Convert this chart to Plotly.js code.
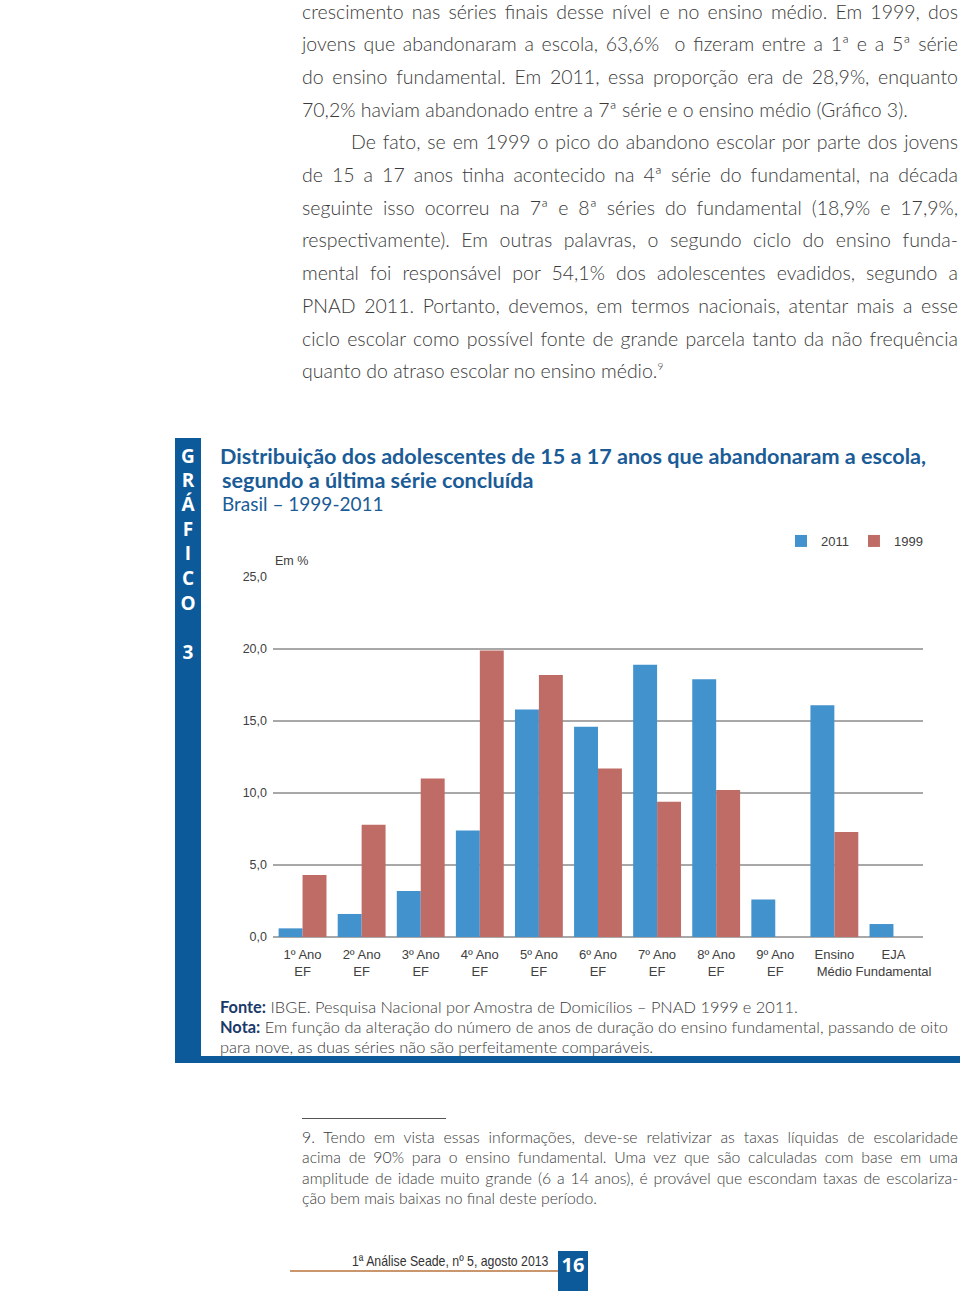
<!DOCTYPE html>
<html><head><meta charset="utf-8">
<script src="https://cdn.plot.ly/plotly-3.0.1.min.js"></script>
<style>
html,body{margin:0;padding:0;background:#fff;}
body{width:960px;height:1291px;position:relative;overflow:hidden;font-family:Lato,"Open Sans",sans-serif;color:#3a3a3a;}
.body{position:absolute;left:302px;top:-4.35px;width:656px;font-weight:300;font-size:19.5px;}
.body .l{height:32.7px;line-height:32.7px;text-align:justify;text-align-last:justify;overflow:visible;}
.body .e{text-align:left;text-align-last:left;}
.body .ind{padding-left:49px;}
sup.fn{font-size:10px;line-height:0;vertical-align:8px;}
.foot{position:absolute;left:302px;top:1126.5px;width:656px;font-weight:300;font-size:15.8px;}
.foot .l{height:20.6px;line-height:20.6px;text-align:justify;text-align-last:justify;}
.foot .e{text-align:left;text-align-last:left;}
#fnline{position:absolute;left:302px;top:1118px;width:144px;height:1px;background:#555;}
#side{position:absolute;left:175px;top:438px;width:26px;height:625px;background:#0d5a9b;}
#bottom{position:absolute;left:175px;top:1056px;width:785px;height:7px;background:#0d5a9b;}
.sl{position:absolute;left:175px;width:26px;text-align:center;color:#fff;font-weight:700;font-size:19px;font-family:"Open Sans",sans-serif;line-height:20px;}
#chart{position:absolute;left:201px;top:438px;width:757px;height:619px;}
.src{position:absolute;left:220px;top:997px;width:740px;font-size:16.4px;line-height:20px;color:#3a3a3a;font-weight:300;white-space:nowrap;}
.src b{color:#1a3a6a;font-weight:700;}
#pgline{position:absolute;left:290px;top:1270px;width:270px;height:1.5px;background:#c9966d;}
#pgtxt{position:absolute;left:352px;top:1252px;font-family:"Liberation Sans",Arial,sans-serif;font-size:15px;color:#333;transform:scaleX(0.82);transform-origin:0 0;white-space:nowrap;}
#pgnum{position:absolute;left:558px;top:1251px;width:30px;height:40px;background:#0d5a9b;color:#fff;font-weight:700;font-size:20px;text-align:center;line-height:28px;font-family:"Open Sans",sans-serif;}
</style></head>
<body>
<div class="body">
<div class="l">crescimento nas séries finais desse nível e no ensino médio. Em 1999, dos</div>
<div class="l">jovens que abandonaram a escola, 63,6%&nbsp; o fizeram entre a 1ª e a 5ª série</div>
<div class="l">do ensino fundamental. Em 2011, essa proporção era de 28,9%, enquanto</div>
<div class="l e">70,2% haviam abandonado entre a 7ª série e o ensino médio (Gráfico 3).</div>
<div class="l ind">De fato, se em 1999 o pico do abandono escolar por parte dos jovens</div>
<div class="l">de 15 a 17 anos tinha acontecido na 4ª série do fundamental, na década</div>
<div class="l">seguinte isso ocorreu na 7ª e 8ª séries do fundamental (18,9% e 17,9%,</div>
<div class="l">respectivamente). Em outras palavras, o segundo ciclo do ensino funda-</div>
<div class="l">mental foi responsável por 54,1% dos adolescentes evadidos, segundo a</div>
<div class="l">PNAD 2011. Portanto, devemos, em termos nacionais, atentar mais a esse</div>
<div class="l">ciclo escolar como possível fonte de grande parcela tanto da não frequência</div>
<div class="l e">quanto do atraso escolar no ensino médio.<sup class="fn">9</sup></div>
</div>

<div id="side"></div>
<div id="bottom"></div>
<div class="sl" style="top:446px">G</div>
<div class="sl" style="top:470px">R</div>
<div class="sl" style="top:494px">Á</div>
<div class="sl" style="top:519px">F</div>
<div class="sl" style="top:543px">I</div>
<div class="sl" style="top:568px">C</div>
<div class="sl" style="top:593px">O</div>
<div class="sl" style="top:642px">3</div>
<div id="chart"></div>
<div class="src"><b>Fonte:</b> IBGE. Pesquisa Nacional por Amostra de Domicílios – PNAD 1999 e 2011.<br><b>Nota:</b> Em função da alteração do número de anos de duração do ensino fundamental, passando de oito<br>para nove, as duas séries não são perfeitamente comparáveis.</div>

<div id="fnline"></div>
<div class="foot">
<div class="l">9. Tendo em vista essas informações, deve-se relativizar as taxas líquidas de escolaridade</div>
<div class="l">acima de 90% para o ensino fundamental. Uma vez que são calculadas com base em uma</div>
<div class="l">amplitude de idade muito grande (6 a 14 anos), é provável que escondam taxas de escolariza-</div>
<div class="l e">ção bem mais baixas no final deste período.</div>
</div>
<div id="pgline"></div>
<div id="pgtxt">1ª Análise Seade, nº 5, agosto 2013</div>
<div id="pgnum">16</div>

<script>
const categories = ['1º Ano<br>EF','2º Ano<br>EF','3º Ano<br>EF','4º Ano<br>EF','5º Ano<br>EF','6º Ano<br>EF','7º Ano<br>EF','8º Ano<br>EF','9º Ano<br>EF','Ensino<br>Médio','EJA<br>Fundamental'];
const values2011 = [0.6,1.6,3.2,7.4,15.8,14.6,18.9,17.9,2.6,16.1,0.9];
const values1999 = [4.3,7.8,11.0,19.9,18.2,11.7,9.4,10.2,null,7.3,null];
const yTicks = [0,5,10,15,20,25];
const seriesNames = ['2011','1999'];
const titleLine1 = 'Distribuição dos adolescentes de 15 a 17 anos que abandonaram a escola,';
const titleLine2 = 'segundo a última série concluída';
const subtitle = 'Brasil – 1999-2011';

const axFont = '"Liberation Sans",Arial,sans-serif';
const ttlFont = 'Lato,"Open Sans",sans-serif';
const blue = '#1b5c97';
const traces = [
  {type:'bar', name:seriesNames[0], x:categories, y:values2011, marker:{color:'#4292ce'}},
  {type:'bar', name:seriesNames[1], x:categories, y:values1999, marker:{color:'#c06c66'}}
];
const plotTop = 577, perUnit = 360; // page px of paper y=1, px per paper unit
const py = (pageY) => 1 + (plotTop - pageY) / perUnit;
const layout = {
  width:757, height:619,
  margin:{l:72, r:35, t:139, b:120, pad:0},
  paper_bgcolor:'rgba(0,0,0,0)', plot_bgcolor:'rgba(0,0,0,0)',
  separators:',.',
  barmode:'group', bargap:0.19, bargroupgap:0,
  font:{family:axFont, size:12.5, color:'#404040'},
  title:{
    text:'<b>' + titleLine1 + '</b>',
    font:{family:ttlFont, size:21.6, color:blue},
    x:19/757, xref:'container', xanchor:'left',
    y:1-(456-438)/619, yref:'container', yanchor:'middle'
  },
  xaxis:{type:'category', showgrid:false, showline:false, zeroline:false, ticks:'', tickangle:0, ticklabelstandoff:8,
         tickfont:{family:axFont, size:13, color:'#404040'}, fixedrange:true},
  yaxis:{range:[0,25], tickvals:yTicks, tickformat:'.1f', showgrid:true, gridcolor:'#a8a8a8', gridwidth:1.3,
         zeroline:true, zerolinecolor:'#a8a8a8', zerolinewidth:1.3, showline:false, ticks:'', ticklabelstandoff:5,
         tickfont:{family:axFont, size:12.5, color:'#404040'}, fixedrange:true},
  legend:{orientation:'h', x:(781-273)/650, xanchor:'left', y:py(541), yanchor:'middle',
          font:{family:axFont, size:13, color:'#404040'}, bgcolor:'rgba(0,0,0,0)'},
  annotations:[
    {text:'<b>' + titleLine2 + '</b>', xref:'paper', yref:'paper', x:(220-273)/650, y:py(480), xanchor:'left', yanchor:'middle',
     showarrow:false, font:{family:ttlFont, size:21.6, color:blue}},
    {text:subtitle, xref:'paper', yref:'paper', x:(220-273)/650, y:py(503), xanchor:'left', yanchor:'middle',
     showarrow:false, font:{family:ttlFont, size:19, color:blue}},
    {text:'Em %', xref:'paper', yref:'paper', x:0, y:py(561), xanchor:'left', yanchor:'middle',
     showarrow:false, font:{family:axFont, size:12.5, color:'#404040'}}
  ]
};
Plotly.newPlot('chart', traces, layout, {displayModeBar:false, staticPlot:true});
</script>
</body></html>
